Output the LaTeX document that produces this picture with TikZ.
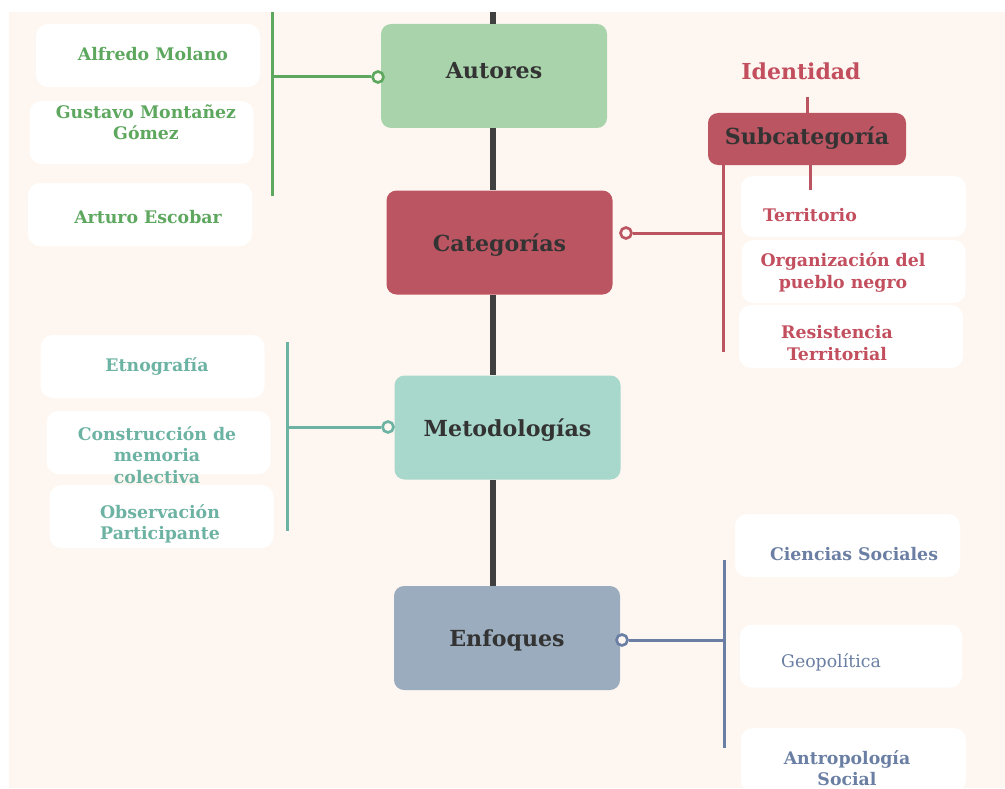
\documentclass[tikz,border=0pt]{standalone}
\usepackage{fontspec}
\setmainfont{DejaVu Serif}

\definecolor{cream}{HTML}{FEF7F1}
\definecolor{autgreen}{HTML}{5DA75E}
\definecolor{autfill}{HTML}{A9D4AB}
\definecolor{catred}{HTML}{BC5562}
\definecolor{cattext}{HTML}{C24E5E}
\definecolor{metteal}{HTML}{6DB3A3}
\definecolor{metfill}{HTML}{A7D8CB}
\definecolor{enfblue}{HTML}{6A7FA3}
\definecolor{enffill}{HTML}{9AACBD}
\definecolor{ink}{HTML}{333333}
\definecolor{spinegray}{HTML}{404040}

\tikzset{
	mainbox/.style={rounded corners=10*0.75pt, minimum width=226*0.75pt, minimum height=104*0.75pt,
		inner sep=0, font=\bfseries\fontsize{16.6}{19}\selectfont, text=ink},
	leafbox/.style={fill=white, rounded corners=12*0.75pt, minimum width=224*0.75pt,
		minimum height=63*0.75pt, inner sep=0},
	leaftxt/.style={font=\bfseries\fontsize{13}{16}\selectfont, align=center, inner sep=0},
	hub/.style={circle, draw=#1, line width=2pt, fill=cream, minimum size=11*0.75pt, inner sep=0},
	branch/.style={line width=2.25pt, #1},
	spine/.style={line width=4.5pt, spinegray},
}

\begin{document}
\begin{tikzpicture}[x=0.75pt,y=-0.75pt]
	% canvas
	\useasboundingbox (0,0) rectangle (1005,788);
	\clip (0,0) rectangle (1005,788);
	\fill[cream] (9,12) rectangle (1005,788);
	% main boxes
	\node[mainbox, fill=autfill, text depth=8pt] (autores) at (494,76) {Autores};
	\node[mainbox, fill=catred, text depth=-9pt] (categorias) at (499.5,242.5) {Categorías};
	\node[mainbox, fill=metfill, text depth=-2pt] (metodologias) at (507.5,427.5) {Metodologías};
	\node[mainbox, fill=enffill, text depth=-7pt] (enfoques) at (507,638) {Enfoques};
	% spine
	\coordinate (top) at (493,12);
	\draw[spine] (top) -- (top |- autores.north);
	\draw[spine] (top |- autores.south) -- (top |- categorias.north);
	\draw[spine] (top |- categorias.south) -- (top |- metodologias.north);
	\draw[spine] (top |- metodologias.south) -- (top |- enfoques.north);

	% Autores
	\node[leafbox] (molano) at (148,55.5) {};
	\node[leaftxt, autgreen] (molano-txt) at (153,54) {Alfredo Molano};
	\node[leafbox] (montanez) at (141.5,132.5) {};
	\node[leaftxt, autgreen] (montanez-txt) at (146,122) {Gustavo Montañez\\Gómez};
	\node[leafbox] (escobar) at (140,214.5) {};
	\node[leaftxt, autgreen] (escobar-txt) at (148,217) {Arturo Escobar};
	\coordinate (autores-bus-top) at (272,12);
	\coordinate (autores-bus-bot) at (272,196);
	\draw[branch=autgreen] (autores-bus-top) -- (autores-bus-bot);
	\node[hub=autgreen] (autores-hub) at (378,77) {};
	\draw[branch=autgreen] (autores-hub.west) -- (autores-hub -| autores-bus-top);

	% Categorias
	\node[font=\bfseries\fontsize{16.5}{19}\selectfont, text=cattext] (identidad) at (801,71) {Identidad};
	\node[mainbox, fill=catred, minimum width=198*0.75pt, minimum height=52*0.75pt, text depth=5pt] (subcat) at (807,139) {Subcategoría};
	\coordinate (ident-tick) at (807,97);
	\draw[branch=catred] (ident-tick) -- (subcat.north -| ident-tick);
	\node[leafbox, minimum width=225*0.75pt, minimum height=61*0.75pt] (territorio) at (853.5,206.5) {};
	\node[leaftxt, cattext] (territorio-txt) at (810,215) {Territorio};
	\node[leafbox] (organizacion) at (853.5,271.5) {};
	\node[leaftxt, cattext] (organizacion-txt) at (843,272.5) {Organización del\\pueblo negro};
	\node[leafbox] (resistencia) at (851,336.5) {};
	\node[leaftxt, cattext] (resistencia-txt) at (837,343) {Resistencia\\Territorial};
	\coordinate (terr-tick) at (810,190);
	\draw[branch=catred] (subcat.south -| terr-tick) -- (terr-tick);
	\coordinate (categorias-bus-bot) at (723,352);
	\draw[branch=catred] (subcat.south -| categorias-bus-bot) -- (categorias-bus-bot);
	\node[hub=catred] (categorias-hub) at (626,233) {};
	\draw[branch=catred] (categorias-hub.east) -- (categorias-hub -| categorias-bus-bot);

	% Metodologias
	\node[leafbox] (etnografia) at (152.5,366.5) {};
	\node[leaftxt, metteal] (etnografia-txt) at (157,366) {Etnografía};
	\node[leafbox] (memoria) at (158.5,442.5) {};
	\node[leafbox] (observacion) at (161.5,516.5) {};
	\node[leaftxt, metteal] (memoria-txt) at (157,455) {Construcción de\\memoria\\colectiva};
	\node[leaftxt, metteal] (observacion-txt) at (160,524) {Observación\\Participante};
	\coordinate (metodologias-bus-top) at (287,342);
	\coordinate (metodologias-bus-bot) at (287,531);
	\draw[branch=metteal] (metodologias-bus-top) -- (metodologias-bus-bot);
	\node[hub=metteal] (metodologias-hub) at (388,427) {};
	\draw[branch=metteal] (metodologias-hub.west) -- (metodologias-hub -| metodologias-bus-top);

	% Enfoques
	\node[leafbox, minimum width=225*0.75pt] (sociales) at (847.5,545.5) {};
	\node[leaftxt, enfblue] (sociales-txt) at (854,554) {Ciencias Sociales};
	\node[leafbox, minimum width=222*0.75pt] (geopolitica) at (851,656) {};
	\node[leaftxt, enfblue, font=\fontsize{13}{16}\selectfont] (geopolitica-txt) at (831,662) {Geopolítica};
	\node[leafbox, minimum width=225*0.75pt, minimum height=64*0.75pt] (antropologia) at (853.5,760) {};
	\node[leaftxt, enfblue] (antropologia-txt) at (847,768) {Antropología\\Social};
	\coordinate (enfoques-bus-top) at (724,560);
	\coordinate (enfoques-bus-bot) at (724,748);
	\draw[branch=enfblue] (enfoques-bus-top) -- (enfoques-bus-bot);
	\node[hub=enfblue] (enfoques-hub) at (622,640) {};
	\draw[branch=enfblue] (enfoques-hub.east) -- (enfoques-hub -| enfoques-bus-top);
\end{tikzpicture}
\end{document}
